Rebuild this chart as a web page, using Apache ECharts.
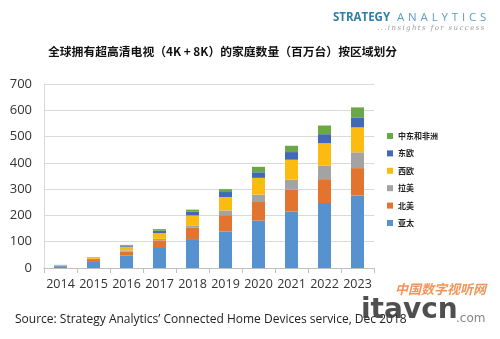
<!DOCTYPE html>
<html><head><meta charset="utf-8">
<script src="https://cdn.jsdelivr.net/npm/echarts@6/dist/echarts.min.js"></script>
<style>html,body{margin:0;padding:0;background:#fff}#c{width:500px;height:339px}</style>
</head><body><div id="c"></div>
<script>
const years = ['2014','2015','2016','2017','2018','2019','2020','2021','2022','2023'];
const apac  = [7, 23, 48, 76, 110, 139, 180, 215, 247, 276];
const na    = [2, 11, 15, 29, 43, 62, 71, 83, 91, 104];
const latam = [0.5, 1, 4, 6, 9, 18, 28, 38, 51, 60];
const weu   = [1.5, 4, 14, 22, 38, 51, 64, 76, 86, 95];
const eeu   = [0.5, 1, 4, 9, 15, 19, 21, 29, 34, 38];
const mea   = [0.5, 1, 3, 6, 7, 11, 21, 24, 33, 38];
const seriesNames = ['亚太','北美','拉美','西欧','东欧','中东和非洲'];
const seriesData = [apac, na, latam, weu, eeu, mea];
const colors = ['#5592cf','#e3742f','#a3a3a3','#fbbb10','#4169b8','#6aa847'];
const yTicks = [0,100,200,300,400,500,600,700];

const sp = (s, g) => s.split('').join(g);

const chart = echarts.init(document.getElementById('c'), null, {renderer:'canvas'});
chart.setOption({
  animation:false,
  backgroundColor:'#fff',
  color: colors,
  title:{
    text:'全球拥有超高清电视（4K + 8K）的家庭数量（百万台）按区域划分',
    left:43, top:41,
    textStyle:{fontSize:11.8, fontWeight:'bold', color:'#111', fontFamily:'"Noto Sans CJK SC", sans-serif'}
  },
  legend:{
    orient:'vertical', left:382, top:127,
    data: seriesNames.slice().reverse(),
    icon:'rect', itemWidth:6, itemHeight:6, itemGap:9.4,
    textStyle:{fontSize:8, fontWeight:'bold', color:'#222', fontFamily:'"Noto Sans CJK SC", sans-serif'}
  },
  grid:{left:44, right:126, top:84, bottom:71, containLabel:false},
  xAxis:{
    type:'category', data:years,
    axisLine:{lineStyle:{color:'#bfbfbf'}},
    axisTick:{show:true, alignWithLabel:false, length:5, lineStyle:{color:'#bfbfbf'}},
    axisLabel:{interval:0, fontSize:12.5, color:'#333', margin:10, fontFamily:'"Open Sans", sans-serif'}
  },
  yAxis:{
    type:'value', min:0, max:700, interval:100,
    axisLine:{show:true, lineStyle:{color:'#d9d9d9'}},
    axisTick:{show:false},
    splitLine:{lineStyle:{color:'#d9d9d9'}},
    axisLabel:{fontSize:13, color:'#333', margin:12, fontFamily:'"Open Sans", sans-serif',
      formatter: v => yTicks.includes(v) ? String(v) : ''}
  },
  series: seriesNames.map((n,i)=>({
    name:n, type:'bar', stack:'total', barWidth:13, data:seriesData[i]
  })),
  graphic:[
    {type:'text', left:333, top:12, style:{text:'STRATEGY', fill:'#2f7fa6', font:'bold 11.5px "Open Sans", sans-serif'}},
    {type:'text', left:397, top:12, style:{text:sp('ANALYTICS','\u2009\u2009'), fill:'#5a9fc2', font:'11.5px "Open Sans", sans-serif'}},
    {type:'text', left:377, top:25, style:{text:sp('...insights for success','\u2009'), fill:'#9a9a9a', font:'italic 7px "DejaVu Serif", serif'}},
    {type:'text', left:15, top:314, style:{text:'Source: Strategy Analytics’ Connected Home Devices service, Dec 2018', fill:'#222', font:'12px "Open Sans", sans-serif'}},
    {type:'text', left:395, top:283, style:{text:'中国数字视听网', fill:'rgba(240,130,60,0.85)', font:'bold italic 13px "Noto Sans CJK SC", sans-serif'}},
    {type:'text', left:361, top:297, style:{text:'itavcn', fill:'rgba(60,60,60,0.9)', font:'bold 28px "DejaVu Sans", sans-serif'}},
    {type:'text', left:456, top:313, style:{text:'.com', fill:'rgba(120,120,120,0.9)', font:'12px "DejaVu Sans", sans-serif'}}
  ]
});
</script></body></html>
